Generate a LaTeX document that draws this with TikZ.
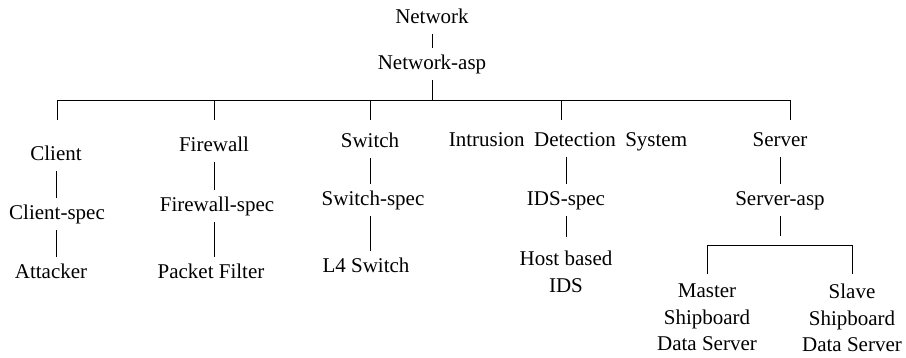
\documentclass[tikz,border=0pt]{standalone}
\usepackage{fontspec}
\setmainfont{Liberation Serif}
\begin{document}
\begin{tikzpicture}[x=1pt, y=-1pt,
  txt/.style={inner xsep=2pt, inner ysep=6pt, align=center,
    font=\fontsize{21}{26.5}\selectfont},
  lbl/.style={txt, anchor=base, text height=15pt, text depth=5pt},
  multi/.style={txt, anchor=north, inner ysep=10pt},
  wire/.style={draw=black, line width=0.8pt}]
\useasboundingbox (0,0) rectangle (906,357);

% root and its aspect
\node[lbl] (net)  at (432,23) {Network};
\node[lbl] (nasp) at (432,69) {Network-asp};

% first-level branches
\node[lbl] (client)   at (56,160)  {Client};
\node[lbl] (cspec)    at (57,219)  {Client-spec};
\node[lbl] (attacker) at (51,278)  {Attacker};

\node[lbl] (fw)     at (214,151) {Firewall};
\node[lbl] (fwspec) at (217,211) {Firewall-spec};
\node[lbl] (pf)     at (211,278) {Packet Filter};

\node[lbl] (sw)     at (370,147) {Switch};
\node[lbl] (swspec) at (373,205) {Switch-spec};
\node[lbl] (l4)     at (366,272) {L4 Switch};

\node[lbl] (ids)     at (568,146) {Intrusion\hspace{0.45em}Detection\hspace{0.45em}System};
\node[lbl] (idsspec) at (566,205) {IDS-spec};
\node[multi, inner ysep=14pt] (hids) at (566,237) {Host based\\IDS};

\node[lbl] (srv)  at (780,146) {Server};
\node[lbl] (sasp) at (780,205) {Server-asp};

\node[multi] (master) at (707,274) {Master\\Shipboard\\Data Server};
\node[multi] (slave)  at (852,274) {Slave\\Shipboard\\Data Server};

% bus under Network-asp with its drops
\coordinate (b1) at (57,100);
\coordinate (b2) at (214,100);
\coordinate (b3) at (370,100);
\coordinate (b4) at (561,100);
\coordinate (b5) at (790,100);
\coordinate (d1) at (57,120);
\coordinate (d2) at (214,120);
\coordinate (d3) at (370,120);
\coordinate (d4) at (561,120);
\coordinate (d5) at (790,120);

\draw[wire] (net.south) -- (net.south |- nasp.north);
\draw[wire] (nasp.south) -- (nasp.south |- b1);
\draw[wire] (b1) -- (b5);
\foreach \i in {1,...,5} \draw[wire] (b\i) -- (d\i);

% vertical links inside each branch
\draw[wire] (client.south) -- (client.south |- cspec.north);
\draw[wire] (cspec.south -| client.south) -- (client.south |- attacker.north);
\draw[wire] (fw.south) -- (fw.south |- fwspec.north);
\draw[wire] (fwspec.south -| fw.south) -- (fw.south |- pf.north);
\draw[wire] (sw.south) -- (sw.south |- swspec.north);
\draw[wire] (swspec.south -| sw.south) -- (sw.south |- l4.north);
\draw[wire] (idsspec.north |- ids.south) -- (idsspec.north);
\draw[wire] (idsspec.south) -- (idsspec.south |- hids.north);
\draw[wire] (srv.south) -- (srv.south |- sasp.north);

% server sub-tree
\coordinate (sbus) at (780,245);
\coordinate (sstop) at (780,236);
\draw[wire] (sasp.south) -- (sstop);
\draw[wire] (master.north) -- (master.north |- sbus) -- (slave.north |- sbus) -- (slave.north);
\end{tikzpicture}
\end{document}
